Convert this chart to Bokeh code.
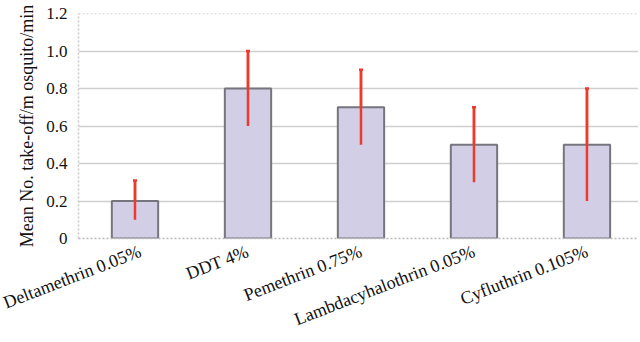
from bokeh.plotting import figure
from bokeh.models import ColumnDataSource, Span, FixedTicker, Whisker
from bokeh.embed import file_html
from bokeh.resources import INLINE

categories = ["Deltamethrin 0.05%", "DDT 4%", "Pemethrin 0.75%", "Lambdacyhalothrin 0.05%", "Cyfluthrin 0.105%"]
means = [0.2, 0.8, 0.7, 0.5, 0.5]
lower = [0.1, 0.6, 0.5, 0.3, 0.2]
upper = [0.31, 1.0, 0.9, 0.7, 0.8]
y_ticks = [0, 0.2, 0.4, 0.6, 0.8, 1.0, 1.2]
y_tick_labels = ["0", "0.2", "0.4", "0.6", "0.8", "1.0", "1.2"]

xs = list(range(len(categories)))
src = ColumnDataSource(dict(x=xs, top=means, lo=lower, hi=upper))

p = figure(width=638, height=341, output_backend="svg", toolbar_location=None,
           x_range=(-0.5, 4.456), y_range=(0, 1.2),
           min_border_left=78, min_border_right=0, min_border_top=13, min_border_bottom=10)
p.outline_line_color = None
p.background_fill_color = "white"

p.vbar(x="x", top="top", width=0.41, bottom=0, source=src,
       fill_color="#d2cee6", line_color="#75757d", line_width=2)

p.segment(x0="x", y0="lo", x1="x", y1="hi", source=src, line_color="#ee3a2c", line_width=2.5)
w = Whisker(base="x", lower="lo", upper="hi", source=src, line_color="#ee3a2c", line_width=2.5)
w.upper_head.size = 4
w.lower_head.size = 4
w.upper_head.line_color = "#ee3a2c"
w.lower_head.line_color = "#ee3a2c"
w.upper_head.line_width = 2.5
w.lower_head.line_width = 2.5
p.add_layout(w)

p.xgrid.grid_line_color = None
p.ygrid.ticker = FixedTicker(ticks=[0.2, 0.4, 0.6, 0.8, 1.0])
p.ygrid.grid_line_color = "#cfcfcf"
p.ygrid.grid_line_width = 1.5

p.add_layout(Span(location=y_ticks[-1], dimension="width", line_color="#c8c8c8",
                  line_dash="2 2", line_width=1.5))

p.yaxis.ticker = FixedTicker(ticks=y_ticks)
p.yaxis.major_label_overrides = {t: l for t, l in zip(y_ticks, y_tick_labels)}
p.yaxis.axis_label = "Mean No. take-off/m osquito/min"
p.yaxis.axis_label_text_font = "Liberation Serif"
p.yaxis.axis_label_text_font_style = "normal"
p.yaxis.axis_label_text_font_size = "18px"
p.yaxis.axis_label_text_color = "#111111"
p.yaxis.axis_label_standoff = 6
p.yaxis.major_label_text_font = "Liberation Serif"
p.yaxis.major_label_text_font_size = "17px"
p.yaxis.major_label_text_color = "#111111"
p.yaxis.major_tick_line_color = None
p.yaxis.minor_tick_line_color = None
p.yaxis.axis_line_color = "#c8c8c8"
p.yaxis.axis_line_dash = "2 2"
p.yaxis.axis_line_width = 1.5
p.yaxis.major_label_standoff = 5

p.xaxis.ticker = FixedTicker(ticks=xs)
p.xaxis.major_label_overrides = {i: c for i, c in enumerate(categories)}
p.xaxis.major_label_orientation = 0.37
p.xaxis.major_label_text_font = "Liberation Serif"
p.xaxis.major_label_text_font_size = "18px"
p.xaxis.major_label_text_color = "#111111"
p.xaxis.major_tick_line_color = None
p.xaxis.minor_tick_line_color = None
p.xaxis.axis_line_color = "#b8b8b8"
p.xaxis.axis_line_dash = "2 2"
p.xaxis.axis_line_width = 1.5
p.xaxis.major_label_standoff = 6

open("out.html", "w").write(file_html(p, INLINE))
